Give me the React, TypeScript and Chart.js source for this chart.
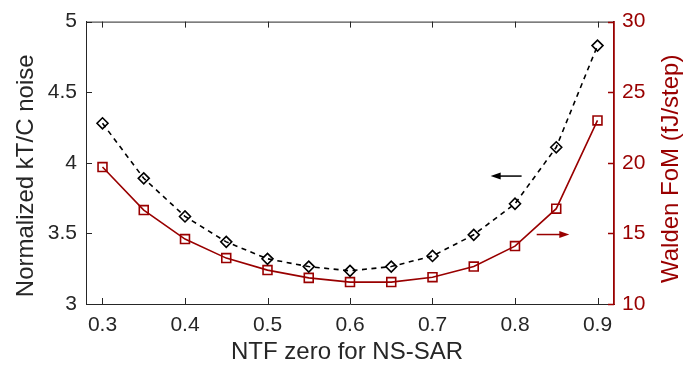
import React, { useEffect, useRef } from "react";
import { Chart, registerables } from "chart.js";

Chart.register(...registerables);

// ---- data ----
const ntfZero = [0.3, 0.35, 0.4, 0.45, 0.5, 0.55, 0.6, 0.65, 0.7, 0.75, 0.8, 0.85, 0.9];
const ktcNoise = [4.28, 3.89, 3.62, 3.44, 3.32, 3.265, 3.235, 3.265, 3.34, 3.49, 3.71, 4.11, 4.83];
const waldenFoM = [19.7, 16.65, 14.6, 13.25, 12.4, 11.85, 11.55, 11.55, 11.9, 12.65, 14.1, 16.75, 23.0];

const xTicks = [0.3, 0.4, 0.5, 0.6, 0.7, 0.8, 0.9];
const leftTicks = [3, 3.5, 4, 4.5, 5];
const rightTicks = [10, 15, 20, 25, 30];

const xTitle = "NTF zero for NS-SAR";
const leftTitle = "Normalized kT/C noise";
const rightTitle = "Walden FoM (fJ/step)";

// arrows in data units: [fromX, toX, y]
const noiseArrow = [0.808, 0.7705, 3.906]; // left axis
const fomArrow = [0.8263, 0.8658, 14.92]; // right axis

const AXIS = "#262626";
const RED = "#990000";
const FONT = "'Liberation Sans', Arial, Helvetica, sans-serif";

function drawArrow(ctx: CanvasRenderingContext2D, x1: number, x2: number, y: number, color: string) {
  const dir = Math.sign(x2 - x1);
  const headLen = 10;
  const headHalf = 3.5;
  ctx.save();
  ctx.strokeStyle = color;
  ctx.fillStyle = color;
  ctx.lineWidth = 1.5;
  ctx.beginPath();
  ctx.moveTo(x1, y);
  ctx.lineTo(x2 - dir * headLen * 0.8, y);
  ctx.stroke();
  ctx.beginPath();
  ctx.moveTo(x2, y);
  ctx.lineTo(x2 - dir * headLen, y - headHalf);
  ctx.lineTo(x2 - dir * headLen, y + headHalf);
  ctx.closePath();
  ctx.fill();
  ctx.restore();
}

const decorPlugin = {
  id: "decor",
  afterDraw(chart: any) {
    const ctx: CanvasRenderingContext2D = chart.ctx;
    const { left, right, top, bottom } = chart.chartArea;
    const xs = chart.scales.x;
    const yl = chart.scales.y;
    const yr = chart.scales.y1;
    const tl = 6;
    ctx.save();
    // top border
    ctx.strokeStyle = AXIS;
    ctx.lineWidth = 1;
    ctx.beginPath();
    ctx.moveTo(left, top + 0.5);
    ctx.lineTo(right, top + 0.5);
    ctx.stroke();
    // x ticks (bottom & top, inward)
    ctx.beginPath();
    for (const v of xTicks) {
      const px = Math.round(xs.getPixelForValue(v)) + 0.5;
      ctx.moveTo(px, bottom);
      ctx.lineTo(px, bottom - tl);
      ctx.moveTo(px, top);
      ctx.lineTo(px, top + tl);
    }
    // left ticks
    for (const v of leftTicks) {
      const py = Math.round(yl.getPixelForValue(v)) + 0.5;
      ctx.moveTo(left, py);
      ctx.lineTo(left + tl, py);
    }
    ctx.stroke();
    // right ticks
    ctx.strokeStyle = RED;
    ctx.lineWidth = 1.5;
    ctx.beginPath();
    for (const v of rightTicks) {
      const py = Math.round(yr.getPixelForValue(v)) + 0.5;
      ctx.moveTo(right, py);
      ctx.lineTo(right - tl, py);
    }
    ctx.stroke();

    // arrows
    drawArrow(ctx, xs.getPixelForValue(noiseArrow[0]), xs.getPixelForValue(noiseArrow[1]), yl.getPixelForValue(noiseArrow[2]), "#000000");
    drawArrow(ctx, xs.getPixelForValue(fomArrow[0]), xs.getPixelForValue(fomArrow[1]), yr.getPixelForValue(fomArrow[2]), RED);

    // titles
    ctx.font = `24px ${FONT}`;
    ctx.textAlign = "center";
    ctx.textBaseline = "middle";
    ctx.fillStyle = AXIS;
    ctx.fillText(xTitle, (left + right) / 2 - 3, bottom + 48);

    ctx.save();
    ctx.translate(26, (top + bottom) / 2 + 13);
    ctx.rotate(-Math.PI / 2);
    ctx.fillText(leftTitle, 0, 0);
    ctx.restore();

    ctx.save();
    ctx.fillStyle = RED;
    ctx.translate(671, (top + bottom) / 2 + 6);
    ctx.rotate(-Math.PI / 2);
    ctx.fillText(rightTitle, 0, 0);
    ctx.restore();

    ctx.restore();
  },
};

const fmt = (v: number) => String(Math.round(v * 100) / 100);

export default function App() {
  const ref = useRef<HTMLCanvasElement | null>(null);

  useEffect(() => {
    if (!ref.current) return;
    const chart = new Chart(ref.current, {
      type: "line",
      data: {
        datasets: [
          {
            label: leftTitle,
            data: ntfZero.map((x, i) => ({ x, y: ktcNoise[i] })),
            yAxisID: "y",
            borderColor: "#000000",
            backgroundColor: "rgba(0,0,0,0)",
            borderWidth: 1.6,
            borderDash: [5, 4.5],
            tension: 0,
            pointStyle: "rectRot",
            pointRadius: 5.5,
            pointBorderWidth: 1.6,
            pointBorderColor: "#000000",
            pointBackgroundColor: "rgba(0,0,0,0)",
          },
          {
            label: rightTitle,
            data: ntfZero.map((x, i) => ({ x, y: waldenFoM[i] })),
            yAxisID: "y1",
            borderColor: RED,
            backgroundColor: "rgba(0,0,0,0)",
            borderWidth: 1.6,
            tension: 0,
            pointStyle: "rect",
            pointRadius: 6.3,
            pointBorderWidth: 1.6,
            pointBorderColor: RED,
            pointBackgroundColor: "rgba(0,0,0,0)",
          },
        ],
      },
      options: {
        animation: false,
        responsive: false,
        devicePixelRatio: 1,
        layout: { padding: { top: 14, left: 0, right: 0, bottom: 0 } },
        plugins: { legend: { display: false }, tooltip: { enabled: false } },
        scales: {
          x: {
            type: "linear",
            min: 0.28,
            max: 0.92,
            afterBuildTicks: (s: any) => {
              s.ticks = xTicks.map((value) => ({ value }));
            },
            afterFit: (s: any) => {
              s.height = 65;
            },
            grid: { display: false, drawTicks: false, tickLength: 0 },
            border: { display: true, color: AXIS, width: 1 },
            ticks: {
              color: AXIS,
              font: { family: FONT, size: 21 },
              padding: 9,
              maxRotation: 0,
              autoSkip: false,
              callback: (v: any) => fmt(Number(v)),
            },
            title: { display: false, text: xTitle },
          },
          y: {
            type: "linear",
            position: "left",
            min: 3,
            max: 5,
            afterBuildTicks: (s: any) => {
              s.ticks = leftTicks.map((value) => ({ value }));
            },
            afterFit: (s: any) => {
              s.width = 86;
            },
            grid: { display: false, drawTicks: false, tickLength: 0 },
            border: { display: true, color: AXIS, width: 1 },
            ticks: {
              color: AXIS,
              font: { family: FONT, size: 21 },
              padding: 9,
              autoSkip: false,
              callback: (v: any) => fmt(Number(v)),
            },
            title: { display: false, text: leftTitle },
          },
          y1: {
            type: "linear",
            position: "right",
            min: 10,
            max: 30,
            afterBuildTicks: (s: any) => {
              s.ticks = rightTicks.map((value) => ({ value }));
            },
            afterFit: (s: any) => {
              s.width = 79;
            },
            grid: { display: false, drawTicks: false, tickLength: 0 },
            border: { display: true, color: RED, width: 1.8 },
            ticks: {
              color: RED,
              font: { family: FONT, size: 21 },
              padding: 8,
              autoSkip: false,
              callback: (v: any) => fmt(Number(v)),
            },
            title: { display: false, text: rightTitle },
          },
        },
      },
      plugins: [decorPlugin],
    } as any);
    return () => chart.destroy();
  }, []);

  return (
    <div style={{ position: "absolute", left: 0, top: 0, width: 693, height: 369, background: "#ffffff" }}>
      <canvas ref={ref} width={693} height={369} style={{ display: "block" }} />
    </div>
  );
}
